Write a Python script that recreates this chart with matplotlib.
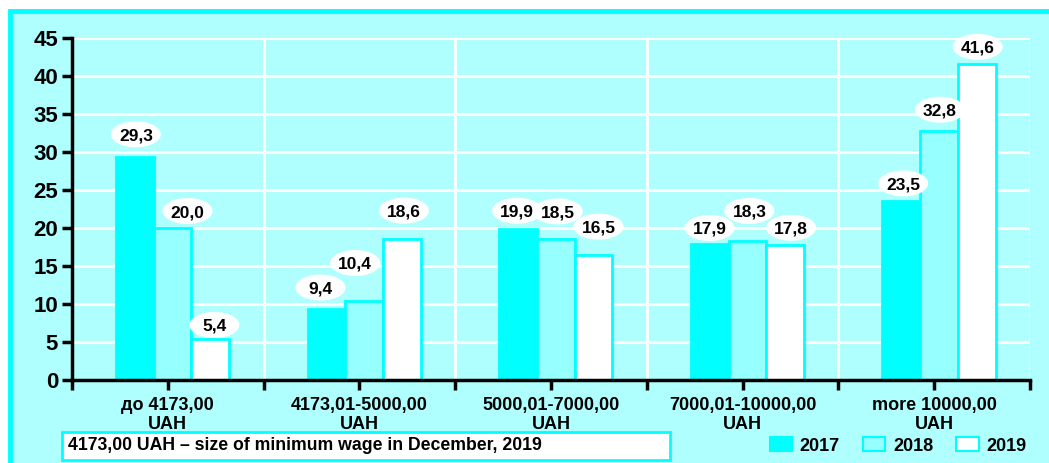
import matplotlib
matplotlib.use("Agg")
import matplotlib.pyplot as plt
from matplotlib.patches import Rectangle, Patch, Ellipse
from matplotlib.transforms import IdentityTransform
import numpy as np

plt.rcParams['font.family'] = ['Liberation Sans', 'DejaVu Sans']
plt.rcParams['font.weight'] = 'bold'

# data
categories = ['до 4173,00\nUAH', '4173,01-5000,00\nUAH', '5000,01-7000,00\nUAH',
              '7000,01-10000,00\nUAH', 'more 10000,00\nUAH']
years = ['2017', '2018', '2019']
v2017 = [29.3, 9.4, 19.9, 17.9, 23.5]
v2018 = [20.0, 10.4, 18.5, 18.3, 32.8]
v2019 = [5.4, 18.6, 16.5, 17.8, 41.6]
note = '4173,00 UAH – size of minimum wage in December, 2019'

# label placement (pixels, relative to top of bar) -- layout only
lab_dx = [[1, -6, -1, 0, 2], [15, -9, 2, 2, 1], [4, 2, 5, 6, 1]]
lab_dy = [[23, 21, 18, 16, 18], [17, 38, 28, 30, 21], [14, 28, 28, 17, 17]]

BG = '#B0FFFF'
CYAN = '#00FFFF'
LIGHT = '#96FFFF'

fig = plt.figure(figsize=(10.49, 4.63), dpi=100, facecolor='white')

# outer frame
fig.patches.append(Rectangle((10 / 1049, -0.2), 2, 1 - 11 / 463 + 0.2,
                             transform=fig.transFigure, facecolor=BG,
                             edgecolor=CYAN, linewidth=3.5, zorder=-5))

ax = fig.add_axes([72 / 1049, 1 - 380 / 463, (1030 - 72) / 1049, (380 - 38) / 463])
ax.set_facecolor(BG)
ax.set_zorder(1)
ax.set_xlim(0, 5)
ax.set_ylim(0, 45)

x = np.arange(len(categories)) + 0.525
w = 0.197
series = [(v2017, CYAN, CYAN), (v2018, LIGHT, CYAN), (v2019, 'white', CYAN)]
for i, (vals, fc, ec) in enumerate(series):
    xs = x + (i - 1) * w
    ax.bar(xs, vals, width=w, color=fc, edgecolor=ec, linewidth=2, zorder=3)
    for j, (xi, v) in enumerate(zip(xs, vals)):
        px, py = ax.transData.transform((xi, v))
        cx, cy = px + lab_dx[i][j], py + lab_dy[i][j]
        ax.add_patch(Ellipse((cx, cy), 50, 26, transform=IdentityTransform(),
                             facecolor='white', edgecolor='none', zorder=5,
                             clip_on=False))
        ax.text(cx, cy, f"{v:.1f}".replace('.', ','), transform=IdentityTransform(),
                ha='center', va='center_baseline', fontsize=12.5, fontweight='bold',
                zorder=6)

# grid
for yv in range(5, 50, 5):
    ax.axhline(yv, color='white', lw=2, zorder=1)
for xv in range(1, 6):
    ax.axvline(xv, color='white', lw=2, zorder=1)

ax.set_yticks(range(0, 50, 5))
ax.tick_params(axis='y', labelsize=16, width=2.5, length=7, pad=3)
xt = np.arange(0, 5.01, 0.5)
ax.set_xticks(xt)
ax.set_xticklabels(['' if t == int(t) else categories[int(t)] for t in xt],
                   fontsize=13, fontweight='bold', linespacing=1.15)
ax.tick_params(axis='x', width=2.5, length=7, pad=5)
for lab in ax.get_yticklabels():
    lab.set_fontweight('bold')
for s in ['top', 'right']:
    ax.spines[s].set_visible(False)
for s in ['left', 'bottom']:
    ax.spines[s].set_linewidth(2.5)
    ax.spines[s].set_zorder(4)

# note box
fig.patches.append(Rectangle((62 / 1049, 1 - 460 / 463), (670 - 62) / 1049, 28 / 463,
                             transform=fig.transFigure, facecolor='white',
                             edgecolor=CYAN, linewidth=2, zorder=2))
fig.text(68 / 1049, 1 - 446 / 463, note, fontsize=12.7, fontweight='bold',
         va='center', ha='left', zorder=3)

handles = [Patch(facecolor=fc, edgecolor=ec, linewidth=1.5) for _, fc, ec in series]
fig.legend(handles, years, loc='center right', bbox_to_anchor=(1043 / 1049, 1 - 446 / 463),
           ncol=3, frameon=False, handlelength=1.22, handleheight=0.83,
           columnspacing=1.28, handletextpad=0.45, prop={'weight': 'bold', 'size': 13})

fig.savefig('out.png', dpi=100, facecolor='white')
